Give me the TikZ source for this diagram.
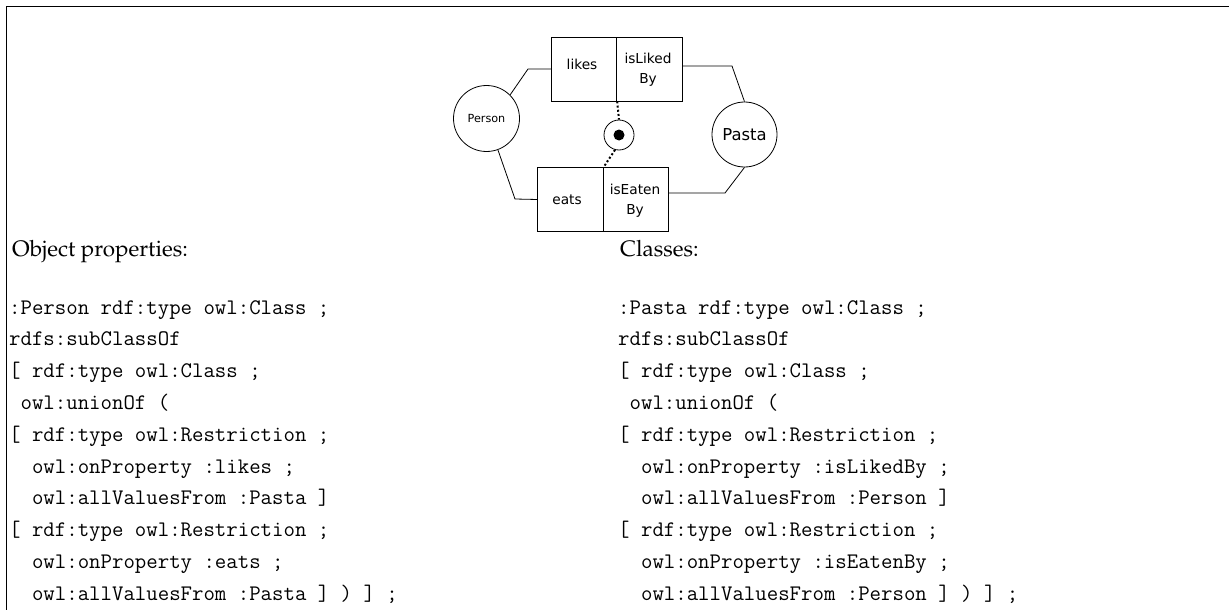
\documentclass[tikz,border=0pt]{standalone}
\usepackage{fontspec}
\newfontfamily\dv{DejaVu Sans}
\begin{document}
\begin{tikzpicture}[x=1pt,y=-1pt,
  cell/.style={draw, line width=0.8pt, minimum width=65.5pt, minimum height=64pt, inner sep=0, anchor=center},
  cls/.style={draw, circle, line width=0.8pt, inner sep=0},
  lbl/.style={inner sep=0, align=center, font=\dv\fontsize{13.7}{20}\selectfont},
  conn/.style={line width=0.8pt},
  dots/.style={line width=2pt, dash pattern=on 2pt off 2.2pt},
  head/.style={anchor=base west, inner sep=0, font=\fontencoding{T1}\fontfamily{ppl}\fontsize{22.4}{26}\selectfont},
  code/.style={anchor=base west, inner sep=0, font=\fontsize{22.2}{26}\ttfamily}]
\useasboundingbox (0,0) rectangle (1229,610);
\draw[line width=0.9pt] (6,610) -- (6,6) -- (1229,6);

% diagram
\node[cell] (likes) at (584,69) {};
\node[cell] (isliked) at (649.5,69) {};
\node[cell] (eats) at (570.5,199.5) {};
\node[cell] (iseaten) at (636,199.5) {};
\node[lbl] (tlikes) at (582,64) {likes};
\node[lbl] (tisliked) at (648,70) {isLiked\\By};
\node[lbl] (teats) at (567,200) {eats};
\node[lbl] (tiseaten) at (635,201) {isEaten\\By};
\node[cls, minimum size=66pt, font=\dv\fontsize{11.2}{13}\selectfont] (person) at (486.5,118.5) {Person};
\node[cls, minimum size=65pt, font=\dv\fontsize{16.4}{19}\selectfont] (pasta) at (744.5,134.5) {Pasta};
\node[cls, minimum size=30pt] (disj) at (619,135) {};
\node[circle, fill=black, inner sep=0, minimum size=11pt] (dot) at (disj.center) {};

\coordinate (b1) at (528,69);
\coordinate (b2) at (515,199);
\coordinate (b3) at (732,66);
\coordinate (b4) at (725,193);
\draw[conn] (person.45) -- (b1) -- (likes.west);
\draw[conn] (person.-70) -- (b2) -- (eats.west);
\draw[conn] (isliked.east |- b3) -- (b3) -- (pasta.north);
\draw[conn] (iseaten.east |- b4) -- (b4) -- (pasta.south);
\draw[dots] (likes.south east) -- (disj.north);
\draw[dots] (disj.255) -- (eats.north east);

% texts
\node[head] (h1) at (12,256) {Object properties:};
\node[head] (h2) at (620,256) {Classes:};

\node[code] (l1) at (9,314) {:Person rdf:type owl:Class ;};
\node[code] (l2) at (9,345.8) {rdfs:subClassOf};
\node[code] (l3) at (9,377.6) {[ rdf:type owl:Class ;};
\node[code] (l4) at (9,409.4) {\ owl:unionOf (};
\node[code] (l5) at (9,441.2) {[ rdf:type owl:Restriction ;};
\node[code] (l6) at (9,473) {\ \ owl:onProperty :likes ;};
\node[code] (l7) at (9,504.8) {\ \ owl:allValuesFrom :Pasta ]};
\node[code] (l8) at (9,536.6) {[ rdf:type owl:Restriction ;};
\node[code] (l9) at (9,568.4) {\ \ owl:onProperty :eats ;};
\node[code] (l10) at (9,600.2) {\ \ owl:allValuesFrom :Pasta ] ) ] ;};

\node[code] (r1) at (618,314) {:Pasta rdf:type owl:Class ;};
\node[code] (r2) at (618,345.8) {rdfs:subClassOf};
\node[code] (r3) at (618,377.6) {[ rdf:type owl:Class ;};
\node[code] (r4) at (618,409.4) {\ owl:unionOf (};
\node[code] (r5) at (618,441.2) {[ rdf:type owl:Restriction ;};
\node[code] (r6) at (618,473) {\ \ owl:onProperty :isLikedBy ;};
\node[code] (r7) at (618,504.8) {\ \ owl:allValuesFrom :Person ]};
\node[code] (r8) at (618,536.6) {[ rdf:type owl:Restriction ;};
\node[code] (r9) at (618,568.4) {\ \ owl:onProperty :isEatenBy ;};
\node[code] (r10) at (618,600.2) {\ \ owl:allValuesFrom :Person ] ) ] ;};
\end{tikzpicture}
\end{document}
